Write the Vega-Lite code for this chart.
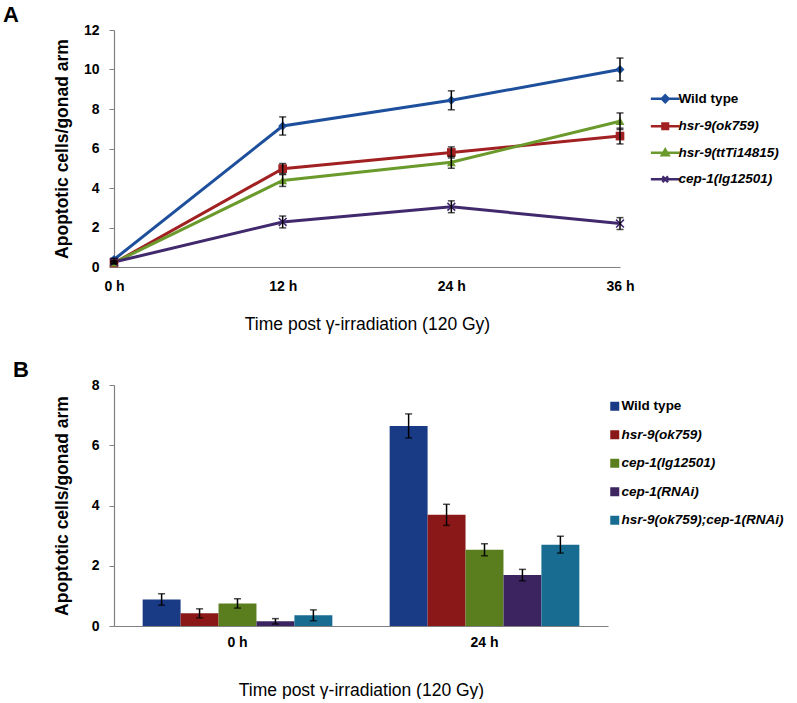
{
  "$schema": "https://vega.github.io/schema/vega-lite/v6.json",
  "background": "white",
  "padding": {"left": 3, "top": 4, "right": 0, "bottom": 0},
  "bounds": "flush",
  "spacing": 118,
  "config": {
    "font": "Liberation Sans",
    "view": {"stroke": null},
    "axis": {
      "grid": false,
      "domainColor": "#808080",
      "domainWidth": 1.2,
      "tickColor": "#808080",
      "labelFont": "Liberation Sans",
      "labelFontWeight": "bold",
      "labelFontSize": 14,
      "labelColor": "black",
      "titleFont": "Liberation Sans",
      "titleColor": "black"
    },
    "legend": {"labelFont": "Liberation Sans", "padding": 0}
  },
  "resolve": {"scale": {"color": "independent", "x": "independent", "y": "independent"}, "legend": {"color": "independent"}},
  "vconcat": [
    {
      "width": 506,
      "height": 237,
      "title": {"text": "A", "anchor": "start", "frame": "group", "dx": -111, "fontSize": 22, "fontWeight": "bold", "color": "black", "offset": -4},
      "data": {"values": [
        {"time": 0, "strain": "Wild type", "value": 0.38, "err": 0.06},
        {"time": 12, "strain": "Wild type", "value": 7.14, "err": 0.46},
        {"time": 24, "strain": "Wild type", "value": 8.44, "err": 0.48},
        {"time": 36, "strain": "Wild type", "value": 10.0, "err": 0.58},
        {"time": 0, "strain": "hsr-9(ok759)", "value": 0.2, "err": 0.05},
        {"time": 12, "strain": "hsr-9(ok759)", "value": 4.98, "err": 0.26},
        {"time": 24, "strain": "hsr-9(ok759)", "value": 5.8, "err": 0.28},
        {"time": 36, "strain": "hsr-9(ok759)", "value": 6.63, "err": 0.4},
        {"time": 0, "strain": "hsr-9(ttTi14815)", "value": 0.22, "err": 0.05},
        {"time": 12, "strain": "hsr-9(ttTi14815)", "value": 4.38, "err": 0.3},
        {"time": 24, "strain": "hsr-9(ttTi14815)", "value": 5.3, "err": 0.3},
        {"time": 36, "strain": "hsr-9(ttTi14815)", "value": 7.38, "err": 0.42},
        {"time": 0, "strain": "cep-1(lg12501)", "value": 0.25, "err": 0.05},
        {"time": 12, "strain": "cep-1(lg12501)", "value": 2.28, "err": 0.3},
        {"time": 24, "strain": "cep-1(lg12501)", "value": 3.05, "err": 0.3},
        {"time": 36, "strain": "cep-1(lg12501)", "value": 2.2, "err": 0.3}
      ]},
      "encoding": {
        "x": {"field": "time", "type": "quantitative", "scale": {"domain": [0, 36], "nice": false, "zero": false},
          "axis": {"values": [0, 12, 24, 36], "labelExpr": "datum.value + ' h'", "ticks": false, "labelPadding": 12, "labelFlush": false,
            "title": "Time post γ-irradiation (120 Gy)", "titleFontSize": 17.5, "titleFontWeight": "normal", "titlePadding": 22}},
        "y": {"field": "value", "type": "quantitative", "scale": {"domain": [0, 12], "nice": false},
          "axis": {"values": [0, 2, 4, 6, 8, 10, 12], "tickSize": 5, "labelPadding": 10,
            "title": "Apoptotic cells/gonad arm", "titleFontSize": 17.5, "titleFontWeight": "bold", "titleX": -52, "titleBaseline": "middle"}},
        "color": {"field": "strain", "type": "nominal",
          "scale": {"domain": ["Wild type", "hsr-9(ok759)", "hsr-9(ttTi14815)", "cep-1(lg12501)"], "range": ["#1d4f9c", "#a12022", "#6b9a2c", "#40296c"]},
          "legend": {
            "title": null, "orient": "none", "legendX": 544.5, "legendY": 62,
            "labelFontSize": 13.5, "labelFontWeight": "bold", "labelColor": "black", "labelLimit": 300,
            "labelFontStyle": {"expr": "datum.value === 'Wild type' ? 'normal' : 'italic'"},
            "symbolSize": 64, "symbolStrokeWidth": 2.5, "labelOffset": 6.5, "rowPadding": 9.5, "symbolOpacity": 1,
            "symbolType": {"expr": "datum.value === 'Wild type' ? 'M-3.6,0H3.6M0,-0.85L0.85,0L0,0.85L-0.85,0Z' : datum.value === 'hsr-9(ok759)' ? 'M-3.6,0H3.6M-0.7,-0.7H0.7V0.7H-0.7Z' : datum.value === 'hsr-9(ttTi14815)' ? 'M-3.6,0H3.6M0,-0.8L0.85,0.65H-0.85Z' : 'M-3.6,0H3.6M-0.7,-0.7L0.7,0.7M-0.7,0.7L0.7,-0.7'"},
            "symbolStrokeColor": {"expr": "datum.value === 'Wild type' ? '#1d4f9c' : datum.value === 'hsr-9(ok759)' ? '#a12022' : datum.value === 'hsr-9(ttTi14815)' ? '#6b9a2c' : '#40296c'"},
            "symbolFillColor": {"expr": "datum.value === 'Wild type' ? '#1d4f9c' : datum.value === 'hsr-9(ok759)' ? '#a12022' : datum.value === 'hsr-9(ttTi14815)' ? '#6b9a2c' : '#40296c'"}
          }
        }
      },
      "layer": [
        {"mark": {"type": "line", "strokeWidth": 3}},
        {"transform": [{"filter": "datum.strain === 'Wild type'"}],
          "mark": {"type": "point", "filled": true, "size": 80, "opacity": 1, "shape": "diamond"}},
        {"transform": [{"filter": "datum.strain === 'hsr-9(ok759)'"}],
          "mark": {"type": "point", "filled": true, "size": 75, "opacity": 1, "shape": "square"}},
        {"transform": [{"filter": "datum.strain === 'hsr-9(ttTi14815)'"}],
          "mark": {"type": "point", "filled": true, "size": 80, "opacity": 1, "shape": "triangle-up"}},
        {"transform": [{"filter": "datum.strain === 'cep-1(lg12501)'"}],
          "mark": {"type": "point", "filled": true, "size": 80, "opacity": 1, "shape": "M-1,-0.75L-0.75,-1L0,-0.25L0.75,-1L1,-0.75L0.25,0L1,0.75L0.75,1L0,0.25L-0.75,1L-1,0.75L-0.25,0Z"}},
        {"mark": {"type": "errorbar", "ticks": {"size": 7, "thickness": 1.5}, "thickness": 1.5, "color": "black"},
          "encoding": {"yError": {"field": "err"}, "color": {"value": "black"}}}
      ]
    },
    {
      "width": 494,
      "height": 241,
      "title": {"text": "B", "anchor": "start", "frame": "group", "dx": -101, "fontSize": 22, "fontWeight": "bold", "color": "black", "offset": -4},
      "data": {"values": [
        {"time": "0 h", "strain": "Wild type", "value": 0.88, "err": 0.19},
        {"time": "0 h", "strain": "hsr-9(ok759)", "value": 0.42, "err": 0.15},
        {"time": "0 h", "strain": "cep-1(lg12501)", "value": 0.75, "err": 0.155},
        {"time": "0 h", "strain": "cep-1(RNAi)", "value": 0.155, "err": 0.09},
        {"time": "0 h", "strain": "hsr-9(ok759);cep-1(RNAi)", "value": 0.355, "err": 0.18},
        {"time": "24 h", "strain": "Wild type", "value": 6.64, "err": 0.4},
        {"time": "24 h", "strain": "hsr-9(ok759)", "value": 3.69, "err": 0.35},
        {"time": "24 h", "strain": "cep-1(lg12501)", "value": 2.53, "err": 0.2},
        {"time": "24 h", "strain": "cep-1(RNAi)", "value": 1.69, "err": 0.19},
        {"time": "24 h", "strain": "hsr-9(ok759);cep-1(RNAi)", "value": 2.7, "err": 0.28}
      ]},
      "encoding": {
        "x": {"field": "time", "type": "nominal", "sort": ["0 h", "24 h"], "scale": {"paddingInner": 0.232, "paddingOuter": 0.116},
          "axis": {"labelAngle": 0, "ticks": false, "labelPadding": 9,
            "title": "Time post γ-irradiation (120 Gy)", "titleFontSize": 17.5, "titleFontWeight": "normal", "titlePadding": 32}},
        "xOffset": {"field": "strain", "type": "nominal", "sort": ["Wild type", "hsr-9(ok759)", "cep-1(lg12501)", "cep-1(RNAi)", "hsr-9(ok759);cep-1(RNAi)"], "scale": {"paddingInner": 0, "paddingOuter": 0}},
        "y": {"field": "value", "type": "quantitative", "scale": {"domain": [0, 8], "nice": false},
          "axis": {"values": [0, 2, 4, 6, 8], "tickSize": 5, "labelPadding": 10,
            "title": "Apoptotic cells/gonad arm", "titleFontSize": 17.5, "titleFontWeight": "bold", "titleX": -52, "titleBaseline": "middle"}}
      },
      "layer": [
        {"mark": {"type": "bar"},
          "encoding": {"color": {"field": "strain", "type": "nominal",
            "scale": {"domain": ["Wild type", "hsr-9(ok759)", "cep-1(lg12501)", "cep-1(RNAi)", "hsr-9(ok759);cep-1(RNAi)"], "range": ["#193a84", "#8b1818", "#5a7e1e", "#3b2460", "#186c92"]},
            "legend": {
              "title": null, "orient": "none", "legendX": 494, "legendY": 14.5,
              "symbolType": "square", "symbolSize": 81, "symbolStrokeWidth": 0,
              "labelFontSize": 13.5, "labelFontWeight": "bold", "labelColor": "black", "labelLimit": 300,
              "labelFontStyle": {"expr": "datum.value === 'Wild type' ? 'normal' : 'italic'"},
              "labelOffset": 0, "rowPadding": 13.5
            }}}},
        {"mark": {"type": "errorbar", "ticks": {"size": 7, "thickness": 1.5}, "thickness": 1.5, "color": "black"},
          "encoding": {"yError": {"field": "err"}}}
      ]
    }
  ]
}
